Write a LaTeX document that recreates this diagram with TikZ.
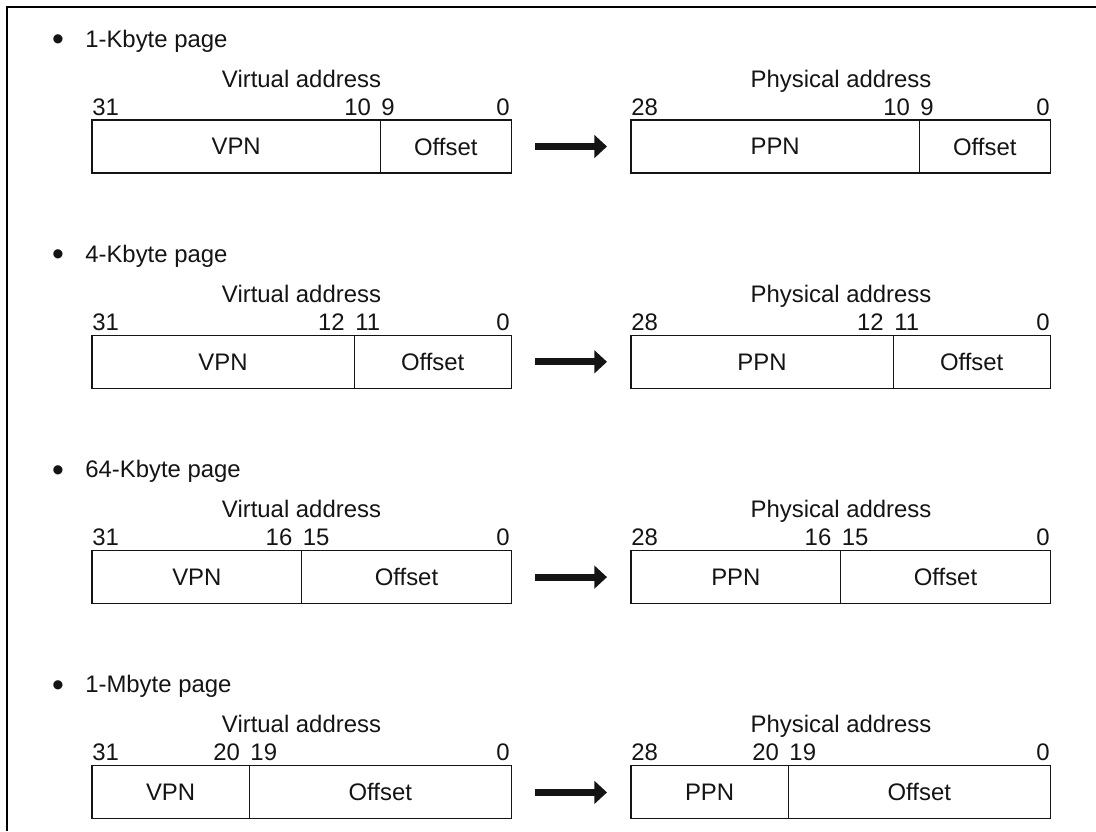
\documentclass[tikz,border=0pt]{standalone}
\usepackage{fontspec}
\setmainfont{Liberation Sans}
\usetikzlibrary{arrows.meta,positioning}
\colorlet{ink}{black!92}
\newcommand{\bitwidth}{0.3275cm}

\begin{document}
\begin{tikzpicture}[x=0.025cm,y=-0.025cm,
    every node/.style={font=\fontsize{17}{20}\selectfont,text=ink},
    lbl/.style={inner sep=0pt},
    field/.style={draw=ink,line width=0.8pt,minimum height=1.325cm,%
                  inner sep=0pt,outer sep=0pt,anchor=north west},
    bigarrow/.style={ink,line width=5pt,-{Triangle[length=9pt,width=16pt]},%
                     shorten <=0.6cm,shorten >=0.6cm}
]
\useasboundingbox (0,0) rectangle (1096,831);
\draw[line width=2pt] (7,831) -- (7,7) -- (1096,7);

\foreach \n/\size [count=\i from 0] in {10/1-Kbyte,12/4-Kbyte,16/64-Kbyte,20/1-Mbyte}
{
  \pgfmathsetmacro{\T}{120+215.3*\i}
  \pgfmathtruncatemacro{\m}{\n-1}
  \pgfmathsetmacro{\vs}{92+(32-\n)*13.1}
  \pgfmathsetmacro{\ps}{631+(32-\n)*13.1}
  % heading
  \node[lbl,anchor=base,font=\fontsize{24}{24}\selectfont] (dot\i) at (58,\T-69.5) {\textbullet};
  \node[lbl,anchor=base west] (title\i) at (85,\T-73) {\size\ page};
  % virtual address
  \node[lbl,anchor=base] (vlabel\i) at (301.5,\T-33) {Virtual address};
  \node[field,minimum width={(32-\n)*\bitwidth}] (vpn\i) at (92,\T) {VPN};
  \node[field,right=0pt of vpn\i,minimum width={\n*\bitwidth}] (voff\i) {Offset};
  \node[lbl,anchor=base west] (vhi\i) at (92,\T-5) {31};
  \node[lbl,anchor=base east] (vsa\i) at (\vs-9,\T-5) {\n};
  \node[lbl,anchor=base west] (vsb\i) at (\vs+1,\T-5) {\m};
  \node[lbl,anchor=base east] (vlo\i) at (510,\T-5) {0};
  % physical address
  \node[lbl,anchor=base] (plabel\i) at (841,\T-33) {Physical address};
  \node[field,minimum width={(32-\n)*\bitwidth}] (ppn\i) at (631,\T) {PPN};
  \node[field,right=0pt of ppn\i,minimum width={\n*\bitwidth}] (poff\i) {Offset};
  \node[lbl,anchor=base west] (phi\i) at (631,\T-5) {28};
  \node[lbl,anchor=base east] (psa\i) at (\ps-9,\T-5) {\n};
  \node[lbl,anchor=base west] (psb\i) at (\ps+1,\T-5) {\m};
  \node[lbl,anchor=base east] (plo\i) at (1050,\T-5) {0};
  \draw[bigarrow] (voff\i.east) -- (ppn\i.west);
}

\end{tikzpicture}
\end{document}
